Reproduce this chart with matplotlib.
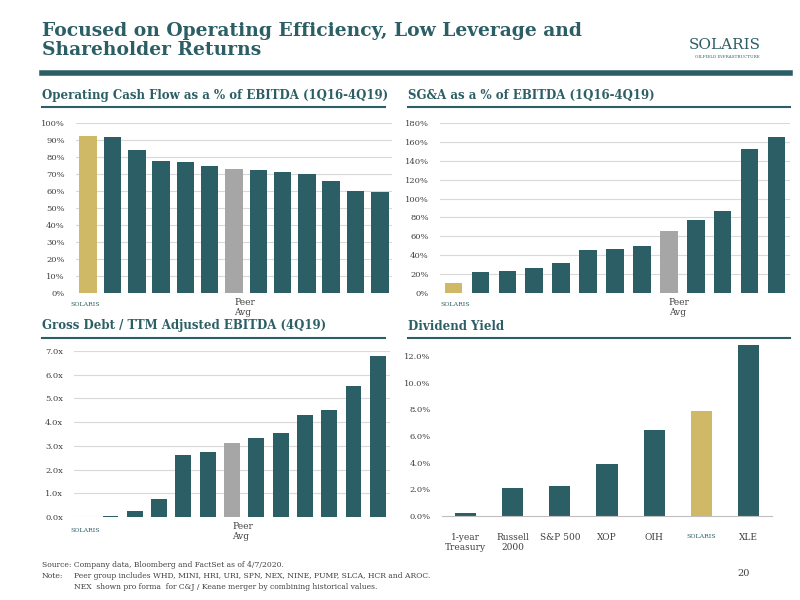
import matplotlib
matplotlib.use("Agg")
import matplotlib.pyplot as plt
from matplotlib.ticker import FuncFormatter

TEAL = "#2c5f65"
GOLD = "#cfb866"
GRAY = "#a6a6a6"
TXT = "#404040"

ocf_vals = [92.5, 92, 84, 77.5, 77, 74.5, 73, 72.5, 71, 70, 66, 60, 59.5]
ocf_peer = 6
sga_vals = [11, 22, 23, 26, 32, 46, 47, 50, 66, 77, 87, 152, 165]
sga_peer = 8
debt_vals = [0.02, 0.03, 0.25, 0.78, 2.6, 2.73, 3.12, 3.32, 3.55, 4.3, 4.5, 5.52, 6.78]
debt_peer = 6
div_labels = ["1-year\nTreasury", "Russell\n2000", "S&P 500", "XOP", "OIH", "", "XLE"]
div_vals = [0.2, 2.1, 2.25, 3.9, 6.45, 7.9, 12.8]
div_solaris = 5

plt.rcParams['font.family'] = ['DejaVu Serif']
fig = plt.figure(figsize=(8, 6), dpi=100)
W, H = 800, 600

def ax_px(l, t, r, b):
    return fig.add_axes([l / W, 1 - b / H, (r - l) / W, (b - t) / H])

def px(x, y):
    return x / W, 1 - y / H

def style(ax, ticks, fmt):
    ax.set_yticks(ticks)
    ax.yaxis.set_major_formatter(FuncFormatter(fmt))
    ax.grid(axis='y', color='#d9d9d9', lw=0.8)
    ax.set_axisbelow(True)
    for s in ax.spines.values():
        s.set_visible(False)
    ax.tick_params(axis='y', length=0, labelsize=6, labelcolor=TXT, pad=8)
    ax.tick_params(axis='x', length=0)

def colors(n, peer):
    c = [TEAL] * n
    c[0] = GOLD
    if peer is not None:
        c[peer] = GRAY
    return c

# Title
fig.text(*px(42, 22), "Focused on Operating Efficiency, Low Leverage and\nShareholder Returns",
         fontsize=13.5, fontweight='bold', color=TEAL, va='top', linespacing=1.1)
fig.text(*px(725, 45), "SOLARIS", fontsize=11, color=TEAL, ha='center', va='center')
fig.text(*px(727, 57), "OILFIELD INFRASTRUCTURE", fontsize=3, color=TEAL, ha='center', va='center')
fig.add_artist(plt.Line2D([42 / W, 790 / W], [1 - 73 / H] * 2, color=TEAL, lw=4))

def header(x0, x1, y, text):
    fig.text(*px(x0, y), text, fontsize=8.5, fontweight='bold', color=TEAL, va='center')
    fig.add_artist(plt.Line2D([x0 / W, x1 / W], [1 - (y + 12) / H] * 2, color=TEAL, lw=1.5))

header(42, 385, 95, "Operating Cash Flow as a % of EBITDA (1Q16-4Q19)")
header(408, 790, 95, "SG&A as a % of EBITDA (1Q16-4Q19)")
header(42, 385, 326, "Gross Debt / TTM Adjusted EBITDA (4Q19)")
header(408, 790, 326, "Dividend Yield")

# Chart 1
ax1 = ax_px(76, 123, 392, 293)
x = range(len(ocf_vals))
ax1.bar(x, ocf_vals, width=0.72, color=colors(len(ocf_vals), ocf_peer))
ax1.set_ylim(0, 100)
ax1.set_xlim(-0.5, len(ocf_vals) - 0.5)
style(ax1, range(0, 101, 10), lambda v, p: f"{v:.0f}%")
ax1.set_xticks([ocf_peer]); ax1.set_xticklabels(["Peer\nAvg"], fontsize=6.5, color=TXT, ha='left')
fig.text(*px(85, 305), "SOLARIS", fontsize=4.5, color=TEAL, ha='center', va='center')

# Chart 2
ax2 = ax_px(440, 123, 790, 293)
x = range(len(sga_vals))
ax2.bar(x, sga_vals, width=0.65, color=colors(len(sga_vals), sga_peer))
ax2.set_ylim(0, 180)
ax2.set_xlim(-0.5, len(sga_vals) - 0.5)
style(ax2, range(0, 181, 20), lambda v, p: f"{v:.0f}%")
ax2.set_xticks([sga_peer]); ax2.set_xticklabels(["Peer\nAvg"], fontsize=6.5, color=TXT, ha='left')
fig.text(*px(455, 305), "SOLARIS", fontsize=4.5, color=TEAL, ha='center', va='center')

# Chart 3
ax3 = ax_px(74, 351, 390, 517)
x = range(len(debt_vals))
ax3.bar(x, debt_vals, width=0.65, color=colors(len(debt_vals), debt_peer))
ax3.set_ylim(0, 7)
ax3.set_xlim(-0.5, len(debt_vals) - 0.5)
style(ax3, [i for i in range(8)], lambda v, p: f"{v:.1f}x")
ax3.set_xticks([debt_peer]); ax3.set_xticklabels(["Peer\nAvg"], fontsize=6.5, color=TXT, ha='left')
fig.text(*px(85, 530), "SOLARIS", fontsize=4.5, color=TEAL, ha='center', va='center')

# Chart 4
ax4 = ax_px(442, 340, 772, 516)
x = range(len(div_vals))
c = [TEAL] * len(div_vals); c[div_solaris] = GOLD
ax4.bar(x, div_vals, width=0.45, color=c)
ax4.set_ylim(0, 13.2)
ax4.set_xlim(-0.5, len(div_vals) - 0.5)
style(ax4, [0, 2, 4, 6, 8, 10, 12], lambda v, p: f"{v:.1f}%")
ax4.grid(False)
ax4.spines['bottom'].set_visible(True); ax4.spines['bottom'].set_color('#bfbfbf')
ax4.set_xticks(list(x)); ax4.set_xticklabels(div_labels, fontsize=6.5, color=TXT)
ax4.tick_params(axis='x', pad=12)
fig.text(*px(442 + 330 * 5.5 / 7, 536), "SOLARIS", fontsize=4.5, color=TEAL, ha='center', va='center')

# Footer
fig.text(*px(42, 565), "Source: Company data, Bloomberg and FactSet as of 4/7/2020.", fontsize=5.5, color=TXT, va='center')
fig.text(*px(42, 576), "Note:", fontsize=5.5, color=TXT, va='center')
fig.text(*px(74, 576), "Peer group includes WHD, MINI, HRI, URI, SPN, NEX, NINE, PUMP, SLCA, HCR and AROC.", fontsize=5.5, color=TXT, va='center')
fig.text(*px(74, 587), "NEX  shown pro forma  for C&J / Keane merger by combining historical values.", fontsize=5.5, color=TXT, va='center')
fig.text(*px(750, 573), "20", fontsize=7, color=TXT, va='center', ha='right')

fig.savefig("out.png", dpi=100)
